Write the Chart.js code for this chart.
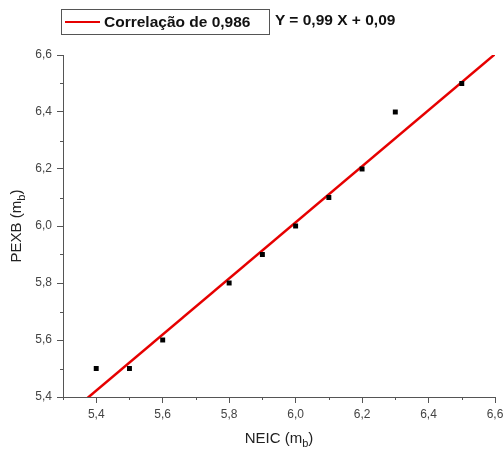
<!DOCTYPE html>
<html>
<head>
<meta charset="utf-8">
<script src="https://cdn.jsdelivr.net/npm/chart.js@4/dist/chart.umd.min.js"></script>
<style>
  html, body { margin: 0; padding: 0; background: #fff; overflow: hidden; }
  #wrap { position: relative; width: 503px; height: 451px; font-family: "Liberation Sans", Arial, sans-serif; }
  #legendBox { position: absolute; left: 61px; top: 9px; width: 207px; height: 24px; border: 1px solid #555; background: #fff; }
  #legendLine { position: absolute; left: 3px; top: 11px; width: 35px; height: 2px; background: #e60000; }
  #legendText { position: absolute; left: 42px; top: 3px; font-weight: bold; font-size: 15.5px; color: #111; white-space: nowrap; }
  #equation { position: absolute; left: 275px; top: 11px; font-weight: bold; font-size: 15.5px; color: #111; white-space: nowrap; }
  canvas { position: absolute; left: 0; top: 0; }
</style>
</head>
<body>
<div id="wrap">
  <canvas id="c" width="503" height="451"></canvas>
  <div id="legendBox"><div id="legendLine"></div><div id="legendText">Correlação de 0,986</div></div>
  <div id="equation">Y = 0,99 X + 0,09</div>
</div>
<script>
// Data
const neic = [5.4, 5.5, 5.6, 5.8, 5.9, 6.0, 6.1, 6.2, 6.3, 6.5];
const pexb = [5.5, 5.5, 5.6, 5.8, 5.9, 6.0, 6.1, 6.2, 6.4, 6.5];
// Fitted line end points
const fitX = [5.3, 6.6];
const fitY = [5.324, 6.603];
// Tick values
const xMajor = [5.4, 5.6, 5.8, 6.0, 6.2, 6.4, 6.6];
const xMinor = [5.3, 5.5, 5.7, 5.9, 6.1, 6.3, 6.5];
const yMajor = [5.4, 5.6, 5.8, 6.0, 6.2, 6.4, 6.6];
const yMinor = [5.5, 5.7, 5.9, 6.1, 6.3, 6.5];
const xTitle = ['NEIC (m', 'b', ')'];
const yTitle = ['PEXB (m', 'b', ')'];

const fmt = v => v.toFixed(1).replace('.', ',');
const axisColor = '#555';
const tickFont = { family: 'Liberation Sans', size: 12 };

const extrasPlugin = {
  id: 'extras',
  afterDraw(chart) {
    const ctx = chart.ctx;
    const xs = chart.scales.x, ys = chart.scales.y;
    const area = chart.chartArea;
    ctx.save();
    ctx.strokeStyle = axisColor;
    ctx.lineWidth = 1;
    ctx.beginPath();
    xMinor.forEach(v => {
      const px = Math.round(xs.getPixelForValue(v)) + 0.5;
      ctx.moveTo(px, area.bottom); ctx.lineTo(px, area.bottom + 3);
    });
    yMinor.forEach(v => {
      const py = Math.round(ys.getPixelForValue(v)) + 0.5;
      ctx.moveTo(area.left, py); ctx.lineTo(area.left - 3, py);
    });
    ctx.stroke();

    // axis titles with subscript
    const drawTitle = (parts, cx, cy, rot) => {
      ctx.save();
      ctx.translate(cx, cy);
      if (rot) ctx.rotate(-Math.PI / 2);
      const big = '15px "Liberation Sans", Arial, sans-serif';
      const small = '11px "Liberation Sans", Arial, sans-serif';
      ctx.font = big; const w0 = ctx.measureText(parts[0]).width; const w2 = ctx.measureText(parts[2]).width;
      ctx.font = small; const w1 = ctx.measureText(parts[1]).width;
      const total = w0 + w1 + w2;
      let x = -total / 2;
      ctx.fillStyle = '#222';
      ctx.textBaseline = 'alphabetic';
      ctx.textAlign = 'left';
      ctx.font = big; ctx.fillText(parts[0], x, 5); x += w0;
      ctx.font = small; ctx.fillText(parts[1], x, 9); x += w1;
      ctx.font = big; ctx.fillText(parts[2], x, 5);
      ctx.restore();
    };
    drawTitle(xTitle, (area.left + area.right) / 2 , 438, false);
    drawTitle(yTitle, 16, (area.top + area.bottom) / 2, true);
    ctx.restore();
  }
};

new Chart(document.getElementById('c'), {
  type: 'scatter',
  data: {
    datasets: [
      {
        type: 'line',
        label: 'Correlação de 0,986',
        data: fitX.map((x, i) => ({ x, y: fitY[i] })),
        borderColor: '#e60000',
        borderWidth: 2.5,
        pointRadius: 0,
        fill: false,
        order: 2
      },
      {
        label: 'PEXB',
        data: neic.map((x, i) => ({ x, y: pexb[i] })),
        pointStyle: 'rect',
        pointRadius: 3.5,
        backgroundColor: '#000',
        borderColor: '#000',
        borderWidth: 0,
        order: 1
      }
    ]
  },
  options: {
    responsive: false,
    animation: false,
    layout: { padding: { top: 55, right: 8, left: 0, bottom: 0 } },
    plugins: { legend: { display: false }, tooltip: { enabled: false } },
    scales: {
      x: {
        type: 'linear', min: 5.3, max: 6.6,
        afterBuildTicks: s => { s.ticks = xMajor.map(v => ({ value: v })); },
        afterFit: s => { s.height = 54; s.paddingLeft = 0; s.paddingRight = 0; },
        border: { display: true, color: axisColor, width: 1 },
        grid: { display: true, drawOnChartArea: false, drawTicks: true, tickLength: 6, color: axisColor },
        ticks: { callback: v => fmt(v), color: '#444', font: tickFont, padding: 4, maxRotation: 0, autoSkip: false }
      },
      y: {
        type: 'linear', min: 5.4, max: 6.6,
        afterBuildTicks: s => { s.ticks = yMajor.map(v => ({ value: v })); },
        afterFit: s => { s.width = 63; s.paddingTop = 0; s.paddingBottom = 0; },
        border: { display: true, color: axisColor, width: 1 },
        grid: { display: true, drawOnChartArea: false, drawTicks: true, tickLength: 6, color: axisColor },
        ticks: { callback: v => fmt(v), color: '#444', font: tickFont, padding: 5, autoSkip: false }
      }
    }
  },
  plugins: [extrasPlugin]
});
</script>
</body>
</html>
